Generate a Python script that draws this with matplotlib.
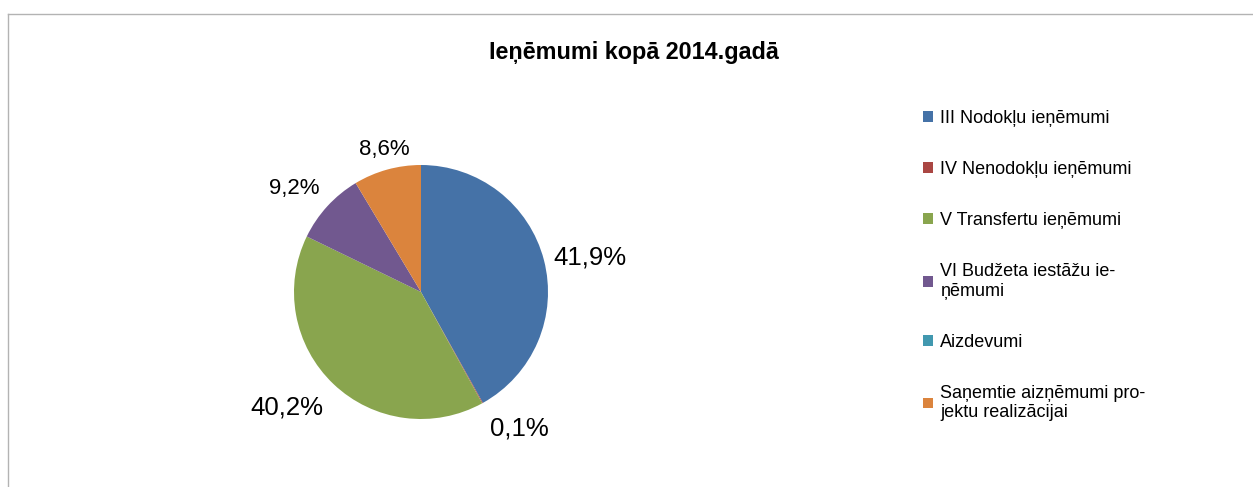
import numpy as np
import matplotlib.pyplot as plt
from matplotlib.lines import Line2D

plt.rcParams["font.family"] = ["Liberation Sans", "DejaVu Sans"]

categories = ['III Nodokļu ieņēmumi', 'IV Nenodokļu ieņēmumi', 'V Transfertu ieņēmumi',
              'VI Budžeta iestāžu ie-\nņēmumi', 'Aizdevumi',
              'Saņemtie aizņēmumi pro-\njektu realizācijai']
shares = [41.9, 0.1, 40.2, 9.2, 0.0, 8.6]
colors = ['#4572A7', '#AA4643', '#89A54E', '#71588F', '#4198AF', '#DB843D']
label_sizes = [18.5, 18.5, 18.5, 16, 16, 16]

fig = plt.figure(figsize=(12.53, 4.87), dpi=100)
ax = fig.add_axes([230.5 / 1253, 4.5 / 487, 381 / 1253, 381 / 487])

def fmt(p):
    return ('%.1f%%' % p).replace('.', ',') if p > 0.01 else ''

wedges, texts, autotexts = ax.pie(shares, colors=colors, startangle=90, counterclock=False,
                                  autopct=fmt, wedgeprops=dict(linewidth=0))
# labels sit just outside the rim, anchored by the side facing the pie
for w, t, s in zip(wedges, autotexts, label_sizes):
    a = np.deg2rad((w.theta1 + w.theta2) / 2)
    c, sn = np.cos(a), np.sin(a)
    d = 1.12 if sn < -0.4 else 1.08
    t.set_position((d * c, d * sn))
    t.set_ha('center' if abs(c) < 0.4 else ('left' if c > 0 else 'right'))
    t.set_va('center' if abs(sn) < 0.4 else ('bottom' if sn > 0 else 'top'))
    t.set_fontsize(s)
    t.set_color('black')
ax.set_xlim(-1.5, 1.5)
ax.set_ylim(-1.5, 1.5)
ax.set_aspect('equal')

fig.text(634 / 1253, 1 - 53 / 487, 'Ieņēmumi kopā 2014.gadā', ha='center', va='center',
         fontsize=16.8, fontweight='bold')

fig.legend(wedges, categories, loc='upper left', bbox_to_anchor=(907 / 1253, 1 - 94 / 487),
           frameon=False, fontsize=13, handlelength=0.55, handleheight=0.55,
           handletextpad=0.4, labelspacing=1.88)

# chart frame
fig.add_artist(Line2D([8 / 1253, 8 / 1253], [0, 1 - 14 / 487], color='#b3b3b3', lw=1))
fig.add_artist(Line2D([8 / 1253, 1], [1 - 14 / 487, 1 - 14 / 487], color='#b3b3b3', lw=1))

plt.savefig('out.png', dpi=100)
